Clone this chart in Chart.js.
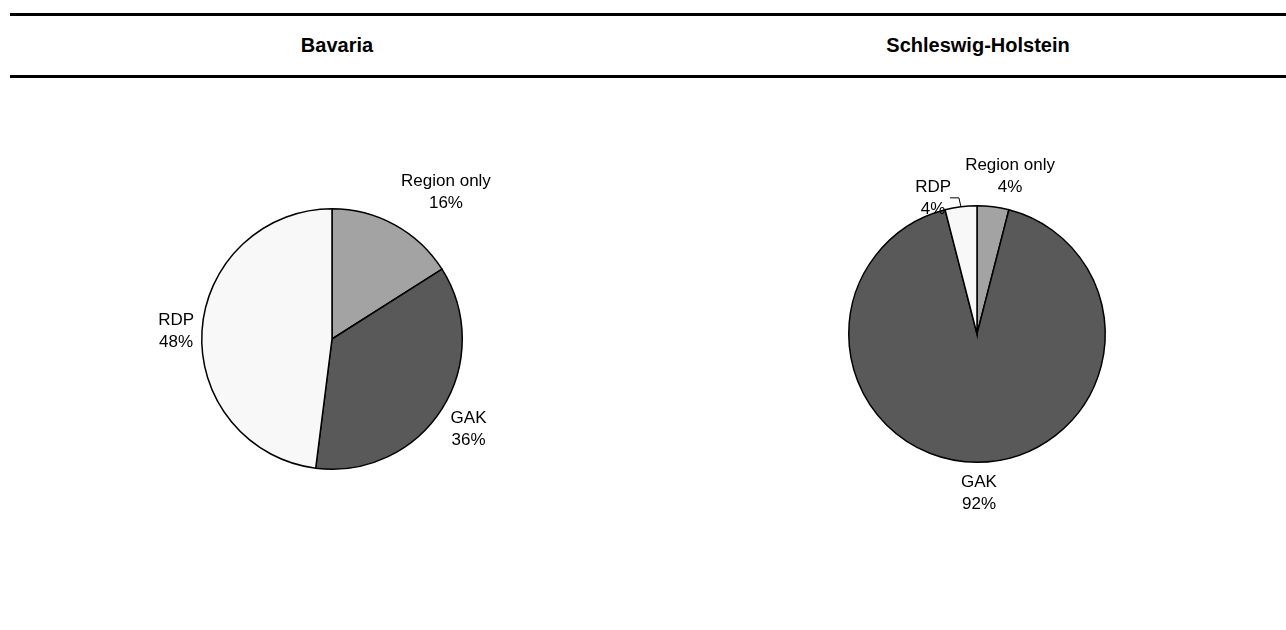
<!DOCTYPE html>
<html>
<head>
<meta charset="utf-8">
<script src="https://cdn.jsdelivr.net/npm/chart.js@4.4.1/dist/chart.umd.min.js"></script>
<style>
  html, body { margin: 0; padding: 0; background: #ffffff; }
  #page { position: relative; width: 1286px; height: 630px; overflow: hidden; font-family: "Liberation Sans", Arial, sans-serif; }
  .rule { position: absolute; left: 10px; right: 0; height: 3px; background: #000; }
  .title { position: absolute; top: 33px; width: 400px; text-align: center; font-weight: bold; font-size: 20px; line-height: 24px; color: #000; }
  .pane { position: absolute; top: 0; width: 643px; height: 630px; }
</style>
</head>
<body>
<div id="page">
  <div class="rule" style="top:13px"></div>
  <div class="rule" style="top:75px"></div>
  <div class="title" style="left:137px">Bavaria</div>
  <div class="title" style="left:778px">Schleswig-Holstein</div>
  <div class="pane" style="left:0"><canvas id="bavaria"></canvas></div>
  <div class="pane" style="left:643px"><canvas id="sh"></canvas></div>
</div>
<script>
// Funding shares by programme, in percent
const categories = ["Region only", "GAK", "RDP"];
const bavariaShares = [16, 36, 48];
const schleswigHolsteinShares = [4, 92, 4];
const sliceColours = ["#a3a3a3", "#595959", "#f8f8f8"];

// Draws "name / value%" outside each slice; the label box corner sits on the
// slice's mid-angle ray, with optional nudges and a leader line.
const outsideLabels = {
  id: "outsideLabels",
  afterDatasetsDraw(chart, args, opts) {
    const ctx = chart.ctx;
    const meta = chart.getDatasetMeta(0);
    const values = chart.data.datasets[0].data;
    const labels = chart.data.labels;
    const clamp = v => Math.max(-1, Math.min(1, v));
    ctx.save();
    ctx.font = "17px 'Liberation Sans', Arial, sans-serif";
    ctx.fillStyle = "#000";
    ctx.textAlign = "center";
    ctx.textBaseline = "middle";
    const lineGap = 22, gap = opts.gap || 9, hh = 18;
    meta.data.forEach((arc, i) => {
      const p = arc.getProps(["x", "y", "startAngle", "endAngle", "outerRadius"], true);
      const mid = (p.startAngle + p.endAngle) / 2;
      const c = Math.cos(mid), s = Math.sin(mid);
      const l1 = labels[i], l2 = values[i] + "%";
      const hw = Math.max(ctx.measureText(l1).width, ctx.measureText(l2).width) / 2;
      const d = p.outerRadius + gap;
      const nudge = (opts.nudge && opts.nudge[i]) || [0, 0];
      const lx = p.x + c * d + hw * clamp(2.1 * c) + nudge[0];
      const ly = p.y + s * d + hh * clamp(2.1 * s) + nudge[1];
      ctx.fillText(l1, lx, ly - lineGap / 2);
      ctx.fillText(l2, lx, ly + lineGap / 2);
      if (opts.leader && opts.leader[i]) {
        const ex = p.x + c * p.outerRadius, ey = p.y + s * p.outerRadius;
        ctx.beginPath();
        ctx.strokeStyle = "#000";
        ctx.lineWidth = 1;
        ctx.moveTo(lx + 17, ly);
        ctx.lineTo(ex - 2, ly);
        ctx.lineTo(ex, ey);
        ctx.stroke();
      }
    });
    ctx.restore();
  }
};

function makePie(id, data, padding, labelOpts) {
  return new Chart(document.getElementById(id), {
    type: "pie",
    data: {
      labels: categories,
      datasets: [{
        data: data,
        backgroundColor: sliceColours,
        borderColor: "#000",
        borderWidth: 1.5,
        borderJoinStyle: "miter"
      }]
    },
    options: {
      responsive: true,
      maintainAspectRatio: false,
      animation: false,
      layout: { padding: padding },
      plugins: {
        legend: { display: false },
        tooltip: { enabled: false },
        outsideLabels: labelOpts
      }
    },
    plugins: [outsideLabels]
  });
}

makePie("bavaria", bavariaShares,
  { left: 201, right: 180, top: 208, bottom: 160 },
  { gap: 9, nudge: [[2, -7], [1, -2], [1, 3]] });

makePie("sh", schleswigHolsteinShares,
  { left: 205, right: 180, top: 205, bottom: 167 },
  { gap: 9, nudge: [[4, -4], [2, 4], [-22, 18]], leader: [false, false, true] });
</script>
</body>
</html>
